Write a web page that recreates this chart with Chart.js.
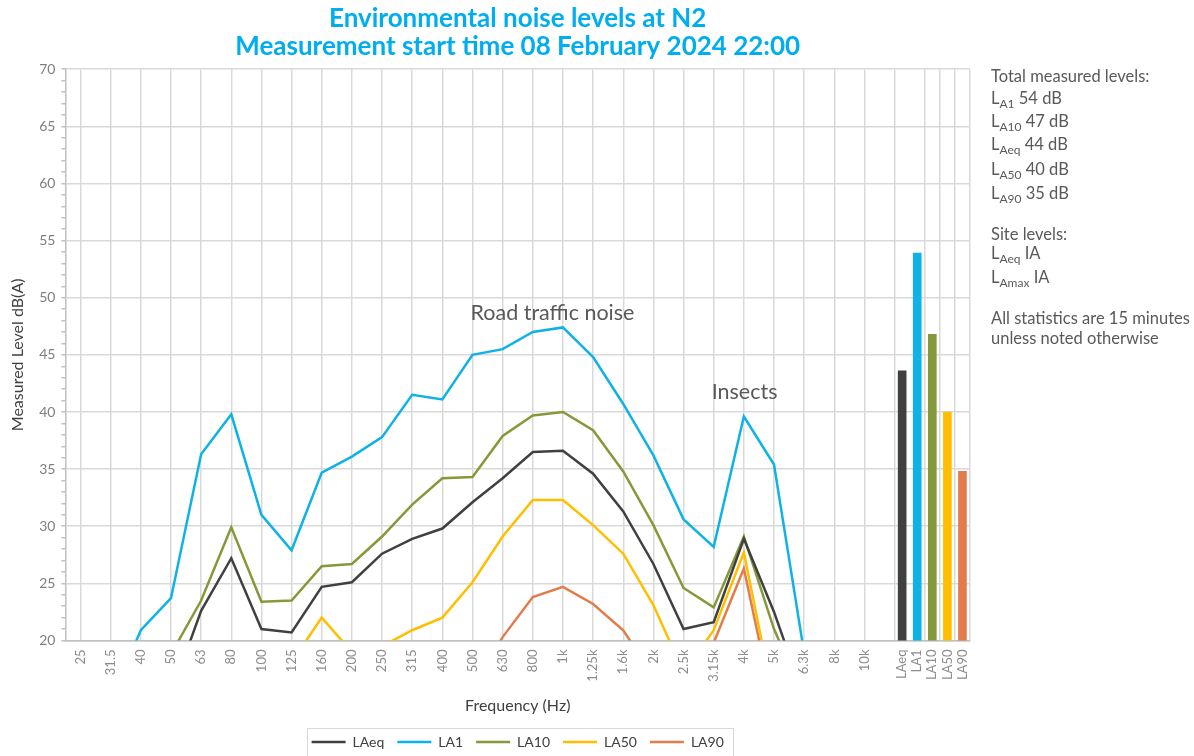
<!DOCTYPE html>
<html><head><meta charset="utf-8">
<script src="https://cdn.jsdelivr.net/npm/chart.js@4.4.1/dist/chart.umd.min.js"></script>
<style>
html,body{margin:0;padding:0;background:#fff;}
#wrap{position:relative;width:1194px;height:756px;overflow:hidden;background:#fff;}
#c{position:absolute;left:0;top:0;}
.side{position:absolute;left:991px;font-family:Lato,"Open Sans",sans-serif;font-size:16.5px;color:#595959;white-space:nowrap;line-height:19px;}
.side sub{font-size:12px;vertical-align:-4px;line-height:0;}
</style></head><body>
<div id="wrap">
<canvas id="c" width="1194" height="756"></canvas>
<div class="side" style="top:67px">Total measured levels:</div>
<div class="side" style="top:89px">L<sub>A1</sub> 54 dB</div>
<div class="side" style="top:112px">L<sub>A10</sub> 47 dB</div>
<div class="side" style="top:135px">L<sub>Aeq</sub> 44 dB</div>
<div class="side" style="top:160px">L<sub>A50</sub> 40 dB</div>
<div class="side" style="top:184px">L<sub>A90</sub> 35 dB</div>
<div class="side" style="top:225px">Site levels:</div>
<div class="side" style="top:244px">L<sub>Aeq</sub> IA</div>
<div class="side" style="top:268px">L<sub>Amax</sub> IA</div>
<div class="side" style="top:309px">All statistics are 15 minutes</div>
<div class="side" style="top:329px">unless noted otherwise</div>
</div>
<script>
// ---- data ----
const freqLabels = ['25','31.5','40','50','63','80','100','125','160','200','250','315','400','500','630','800','1k','1.25k','1.6k','2k','2.5k','3.15k','4k','5k','6.3k','8k','10k'];
const LAeq = [null,null,null,15.3,22.6,27.2,21.0,20.7,24.7,25.1,27.6,28.9,29.8,32.1,34.2,36.5,36.6,34.6,31.3,26.7,21.0,21.6,28.9,22.5,15.0,null,null];
const LA1  = [null,14.8,20.9,23.7,36.3,39.8,31.0,27.9,34.7,36.1,37.8,41.5,41.1,45.0,45.5,47.0,47.4,44.8,40.7,36.2,30.6,28.2,39.6,35.4,18.9,null,null];
const LA10 = [null,null,null,18.8,23.5,29.9,23.4,23.5,26.5,26.7,29.1,31.9,34.2,34.3,37.9,39.7,40.0,38.4,34.8,30.1,24.6,22.9,29.1,21.0,15.0,null,null];
const LA50 = [null,null,null,null,null,null,null,18.1,22.0,19.0,19.5,20.9,22.0,25.1,29.1,32.3,32.3,30.1,27.6,23.1,17.2,20.9,27.7,14.6,null,null,null];
const LA90 = [null,null,null,null,null,null,null,null,null,null,null,null,null,16.0,20.3,23.8,24.7,23.2,20.9,16.9,null,19.8,26.3,13.9,null,null,null];
const totalLabels = ['LAeq','LA1','LA10','LA50','LA90'];
const totalValues = [43.6,53.9,46.8,40.0,34.8];
const seriesNames = ['LAeq','LA1','LA10','LA50','LA90'];
const seriesColors = ['#404040','#0fb2e6','#86993a','#ffbf00','#e27d4b'];
const annotations = [
  {text:'Road traffic noise', at:'500', y:48.7},
  {text:'Insects', at:'3.15k', y:41.7}
];

// ---- build slots for the combined category axis (half-width sub-slots) ----
const SLOTS = 121;
const labels = new Array(SLOTS).fill('');
const freqSlot = j => 2 + 4*j;
const totalSlot = b => 111 + 2*b;
freqLabels.forEach((l,j)=>{ labels[freqSlot(j)] = l; });
totalLabels.forEach((l,b)=>{ labels[totalSlot(b)] = l; });
const gridSlots = new Set(freqLabels.map((l,j)=>freqSlot(j)).concat([110,114,116,118,SLOTS-1]));
function spread(arr){ const o = new Array(SLOTS).fill(null); arr.forEach((v,j)=>{ o[freqSlot(j)] = v; }); return o; }
const barData = new Array(SLOTS).fill(null);
const barColors = new Array(SLOTS).fill('rgba(0,0,0,0)');
totalValues.forEach((v,b)=>{ barData[totalSlot(b)] = v; barColors[totalSlot(b)] = seriesColors[b]; });
const seriesData = [LAeq, LA1, LA10, LA50, LA90];

Chart.defaults.font.family = 'Lato, "Open Sans", sans-serif';

const datasets = seriesData.map((arr,i)=>({
  type:'line', label:seriesNames[i], data:spread(arr), borderColor:seriesColors[i], backgroundColor:seriesColors[i],
  borderWidth:2.5, pointRadius:0, pointHoverRadius:0, tension:0, spanGaps:true, clip:0
}));
datasets.push({type:'bar', label:'Totals', data:barData, backgroundColor:barColors, barThickness:8});

const annoPlugin = {
  id:'anno',
  afterDatasetsDraw(chart){
    const ctx = chart.ctx, xs = chart.scales.x, ys = chart.scales.y;
    ctx.save();
    ctx.font = '21.5px Lato, "Open Sans", sans-serif';
    ctx.fillStyle = '#595959';
    ctx.textAlign = 'left'; ctx.textBaseline = 'middle';
    annotations.forEach(a=>{
      const idx = labels.indexOf(a.at);
      ctx.fillText(a.text, xs.getPixelForValue(idx) - 2, ys.getPixelForValue(a.y));
    });
    ctx.restore();
  }
};
const legendBox = {
  id:'legendBox',
  afterDraw(chart){
    const hb = chart.legend && chart.legend.legendHitBoxes;
    if(!hb || !hb.length) return;
    let l=Infinity,r=-Infinity,t=Infinity,b=-Infinity;
    hb.forEach(h=>{ l=Math.min(l,h.left); r=Math.max(r,h.left+h.width); t=Math.min(t,h.top); b=Math.max(b,h.top+h.height); });
    const ctx = chart.ctx; ctx.save();
    ctx.strokeStyle = '#d9d9d9'; ctx.lineWidth = 1;
    ctx.strokeRect(Math.round(l-5)+0.5, Math.round(t-7)+0.5, Math.round(r-l+14), Math.round(b-t+14));
    ctx.restore();
  }
};

new Chart(document.getElementById('c'), {
  type:'line',
  data:{ labels, datasets },
  options:{
    responsive:false, animation:false, devicePixelRatio:1,
    layout:{ padding:{ left:4, right:224, top:2, bottom:-3 } },
    interaction:{ mode:'nearest', intersect:true },
    plugins:{
      tooltip:{ enabled:false },
      title:{ display:true, fullSize:false,
        text:['Environmental noise levels at N2','Measurement start time 08 February 2024 22:00'],
        color:'#00aeef', font:{ size:26, weight:'bold', lineHeight:1.1 }, padding:{ top:2, bottom:8 } },
      legend:{ position:'bottom', fullSize:false,
        labels:{ usePointStyle:true, pointStyle:'line', pointStyleWidth:34, color:'#404040', font:{ size:14 }, padding:13,
          filter:item=>item.datasetIndex<5 } }
    },
    scales:{
      x:{ type:'category', offset:false,
        grid:{ offset:false, drawTicks:false, lineWidth:1.5,
          color:ctx=> gridSlots.has(ctx.index) ? '#d9d9d9' : 'rgba(0,0,0,0)' },
        border:{ color:'#bfbfbf', width:1.5 },
        ticks:{ autoSkip:false, maxRotation:90, minRotation:90, color:'#8c8c8c', font:{ size:13 }, padding:9 },
        title:{ display:true, text:'Frequency (Hz)', color:'#404040', font:{ size:16 }, padding:{ top:5, bottom:7 } } },
      y:{ min:20, max:70,
        grid:{ lineWidth:1.5, tickLength:4, tickColor:'#bfbfbf',
          color:ctx=> (ctx.tick && ctx.tick.value % 5 === 0) ? '#d9d9d9' : 'rgba(0,0,0,0)' },
        border:{ color:'#bfbfbf', width:1.5 },
        ticks:{ stepSize:1, autoSkip:false, color:'#7f7f7f', font:{ size:14 }, padding:6,
          callback:v=> (v % 5 === 0 ? String(v) : '') },
        title:{ display:true, text:'Measured Level dB(A)', color:'#404040', font:{ size:16 }, padding:{ top:4, bottom:6 } } }
    }
  },
  plugins:[annoPlugin, legendBox]
});
</script>
</body></html>
